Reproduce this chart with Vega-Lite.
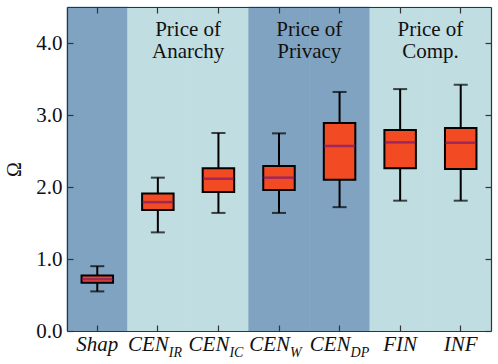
{
  "$schema": "https://vega.github.io/schema/vega-lite/v6.json",
  "autosize": {"type": "none"},
  "width": 424,
  "height": 324,
  "padding": {"left": 67, "top": 7, "right": 7, "bottom": 33},
  "config": {
    "font": "Liberation Serif",
    "view": {"stroke": null},
    "axis": {
      "domainColor": "#333333",
      "domainWidth": 1.2,
      "tickColor": "#333333",
      "tickWidth": 1.2,
      "grid": false,
      "labelFont": "Liberation Serif",
      "labelColor": "#111111",
      "labelFontSize": 21
    }
  },
  "datasets": {
    "boxes": [
      {"method": "Shap", "section": "Shapley", "lower": 0.55, "q1": 0.67, "median": 0.72, "q3": 0.77, "upper": 0.90},
      {"method": "CEN_IR", "section": "Anarchy", "lower": 1.37, "q1": 1.68, "median": 1.79, "q3": 1.91, "upper": 2.13},
      {"method": "CEN_IC", "section": "Anarchy", "lower": 1.64, "q1": 1.93, "median": 2.115, "q3": 2.26, "upper": 2.75},
      {"method": "CEN_W", "section": "Privacy", "lower": 1.64, "q1": 1.96, "median": 2.13, "q3": 2.29, "upper": 2.745},
      {"method": "CEN_DP", "section": "Privacy", "lower": 1.72, "q1": 2.10, "median": 2.57, "q3": 2.89, "upper": 3.32},
      {"method": "FIN", "section": "Comp", "lower": 1.81, "q1": 2.26, "median": 2.62, "q3": 2.79, "upper": 3.36},
      {"method": "INF", "section": "Comp", "lower": 1.81, "q1": 2.25, "median": 2.615, "q3": 2.82, "upper": 3.42}
    ],
    "sections": [
      {"anchor": "CEN_IR", "label": "Price of\nAnarchy"},
      {"anchor": "CEN_W", "label": "Price of\nPrivacy"},
      {"anchor": "FIN", "label": "Price of\nComp."}
    ]
  },
  "resolve": {"axis": {"x": "independent", "y": "independent"}},
  "layer": [
    {
      "data": {"name": "boxes"},
      "mark": {"type": "rect", "strokeWidth": 0.6},
      "encoding": {
        "x": {
          "field": "method", "type": "nominal", "sort": null,
          "scale": {"type": "band", "domain": ["Shap", "CEN_IR", "CEN_IC", "CEN_W", "CEN_DP", "FIN", "INF"], "paddingInner": 0, "paddingOuter": 0},
          "axis": {
            "orient": "bottom", "zindex": 2, "offset": -6, "title": null, "domain": false, "ticks": true, "tickSize": 6,
            "labelAngle": 0, "labelOverlap": false, "labelBound": false, "labelFlush": false,
            "labelFontStyle": "italic", "labelBaseline": "alphabetic", "labelPadding": 19,
            "labelExpr": "split(datum.value, '_')[0]",
            "labelAlign": {"condition": {"test": "indexof(datum.value, '_') > 0", "value": "right"}, "value": "center"},
            "labelOffset": {"condition": {"test": "indexof(datum.value, '_') > 0", "value": 11}, "value": 0}
          }
        },
        "y": {
          "datum": 0, "type": "quantitative",
          "scale": {"domain": [0, 4.5], "nice": false, "zero": true},
          "axis": {
            "orient": "left", "zindex": 2, "offset": -6, "domain": false, "title": "Ω", "titleFont": "Liberation Serif", "titleFontSize": 20,
            "titleFontWeight": "normal", "titleColor": "#111111", "titlePadding": 11,
            "values": [0, 1, 2, 3, 4], "format": ".1f", "tickSize": 6, "labelPadding": 5
          }
        },
        "y2": {"datum": 4.5},
        "fill": {
          "field": "section", "type": "nominal",
          "scale": {"domain": ["Shapley", "Anarchy", "Privacy", "Comp"], "range": ["#7fa3c0", "#c0dde1", "#7fa3c0", "#c0dde1"]},
          "legend": null
        },
        "stroke": {"field": "section", "type": "nominal", "legend": null,
          "scale": {"domain": ["Shapley", "Anarchy", "Privacy", "Comp"], "range": ["#7fa3c0", "#c0dde1", "#7fa3c0", "#c0dde1"]}}
      }
    },
    {
      "data": {"name": "boxes"},
      "mark": {"type": "rule", "color": "#000000", "strokeWidth": 2},
      "encoding": {
        "x": {
          "field": "method", "type": "nominal", "sort": null,
          "axis": {
            "orient": "bottom", "zindex": 2, "title": null, "domain": true, "ticks": false,
            "labelAngle": 0, "labelOverlap": false, "labelBound": false, "labelFlush": false,
            "labelFontStyle": "italic", "labelFontSize": 14, "labelBaseline": "alphabetic", "labelPadding": 25,
            "labelExpr": "indexof(datum.value, '_') > 0 ? split(datum.value, '_')[1] : ''",
            "labelAlign": "left", "labelOffset": 11
          }
        },
        "y": {"field": "lower", "type": "quantitative",
          "axis": {"orient": "right", "zindex": 2, "offset": -6, "domain": false, "title": null, "labels": false, "values": [0, 1, 2, 3, 4], "tickSize": 6}},
        "y2": {"field": "upper"}
      }
    },
    {
      "data": {"name": "boxes"},
      "mark": {"type": "bar", "fill": "#f24b24", "stroke": "#000000", "strokeWidth": 2, "width": {"band": 0.52}},
      "encoding": {
        "x": {"field": "method", "type": "nominal", "sort": null,
          "axis": {"orient": "top", "zindex": 2, "offset": -6, "title": null, "labels": false, "tickSize": 6, "domain": false}},
        "y": {"field": "q1", "type": "quantitative",
          "axis": {"orient": "right", "zindex": 2, "title": null, "labels": false, "ticks": false, "domain": true}},
        "y2": {"field": "q3"}
      }
    },
    {
      "data": {"name": "boxes"},
      "mark": {"type": "tick", "color": "#000000", "size": 14, "thickness": 2},
      "encoding": {
        "x": {"field": "method", "type": "nominal", "sort": null,
          "axis": {"orient": "top", "zindex": 2, "title": null, "labels": false, "ticks": false, "domain": true}},
        "y": {"field": "lower", "type": "quantitative",
          "axis": {"orient": "left", "zindex": 2, "title": null, "labels": false, "ticks": false, "domain": true}}
      }
    },
    {
      "data": {"name": "boxes"},
      "mark": {"type": "tick", "color": "#000000", "size": 14, "thickness": 2},
      "encoding": {
        "x": {"field": "method", "type": "nominal", "sort": null, "axis": null},
        "y": {"field": "upper", "type": "quantitative", "axis": null}
      }
    },
    {
      "data": {"name": "boxes"},
      "mark": {"type": "tick", "color": "#7a1a70", "size": 31, "thickness": 2.5},
      "encoding": {
        "x": {"field": "method", "type": "nominal", "sort": null, "axis": null},
        "y": {"field": "median", "type": "quantitative", "axis": null}
      }
    },
    {
      "data": {"name": "sections"},
      "mark": {"type": "text", "fontSize": 21, "font": "Liberation Serif", "lineBreak": "\n", "lineHeight": 22, "align": "center", "baseline": "top", "color": "#111111"},
      "encoding": {
        "x": {"field": "anchor", "type": "nominal", "bandPosition": 1, "axis": null},
        "y": {"datum": 4.33, "type": "quantitative", "axis": null},
        "text": {"field": "label"}
      }
    }
  ]
}
